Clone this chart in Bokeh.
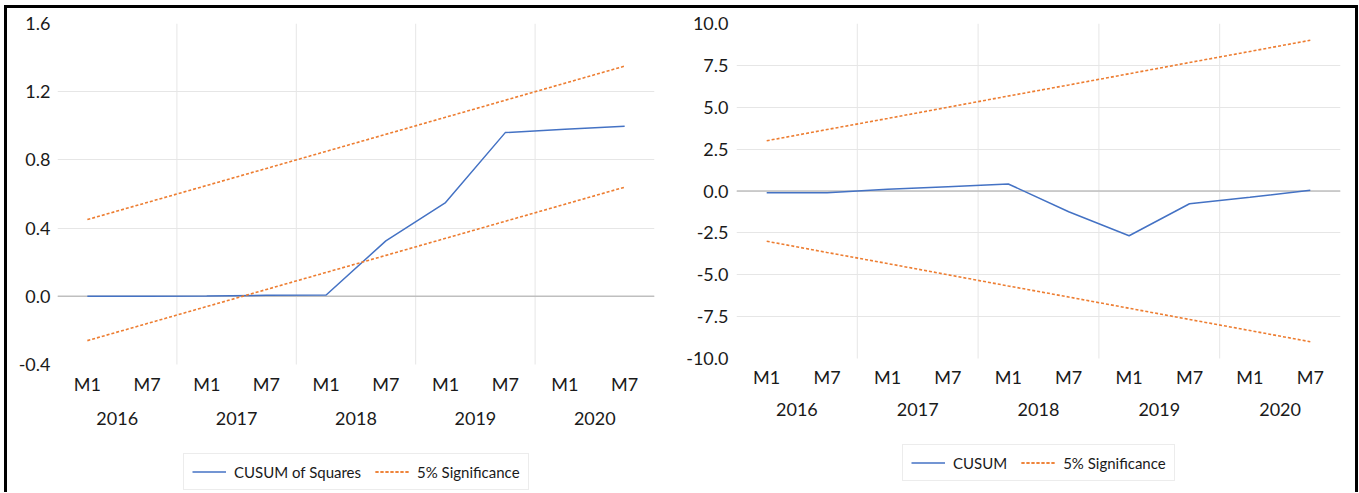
from bokeh.plotting import figure
from bokeh.models import (FactorRange, Range1d, FixedTicker, NumeralTickFormatter,
                          Span, Legend, LegendItem, ColumnDataSource)
from bokeh.layouts import row
from bokeh.embed import file_html
from bokeh.resources import INLINE

# ---------------- data ----------------
years = ["2016", "2017", "2018", "2019", "2020"]
months = ["M1", "M7"]

cusumsq = [0.0, 0.0, 0.002, 0.006, 0.008, 0.325, 0.55, 0.96, 0.98, 0.998]
cusumsq_upper = [0.45, 0.55, 0.65, 0.75, 0.85, 0.95, 1.05, 1.15, 1.25, 1.35]
cusumsq_lower = [-0.26, -0.16, -0.06, 0.04, 0.14, 0.24, 0.34, 0.44, 0.54, 0.64]
left_ticks = [-0.4, 0.0, 0.4, 0.8, 1.2, 1.6]

cusum = [-0.1, -0.1, 0.1, 0.26, 0.42, -1.24, -2.67, -0.76, -0.38, 0.05]
cusum_upper = [3.0, 3.67, 4.33, 5.0, 5.67, 6.33, 7.0, 7.67, 8.33, 9.0]
cusum_lower = [-3.0, -3.67, -4.33, -5.0, -5.67, -6.33, -7.0, -7.67, -8.33, -9.0]
right_ticks = [-10.0, -7.5, -5.0, -2.5, 0.0, 2.5, 5.0, 7.5, 10.0]

series_names_left = ["CUSUM of Squares", "5% Significance"]
series_names_right = ["CUSUM", "5% Significance"]

# ---------------- style ----------------
FONT = "Lato"
TICK_SIZE = "18px"
TXT = "#1a1a1a"
BLUE = "#4472C4"
ORANGE = "#ED7D31"
GRID = "#e6e6e6"
ZERO = "#bfbfbf"

factors = [(y, m) for y in years for m in months]
boundaries = [(y, months[-1], 0.5) for y in years[:-1]]


def make_chart(frame_w, mb, ticks, px_top, px_low, frame_h, main, upper, lower,
               names, leg_loc, x_std, axis_shift, y_std):
    # the frame reaches down to the bottom of the canvas so that the axis
    # (fixed near the lowest tick) and the legend below it stay inside it
    canvas_top = 8
    frame_top = canvas_top + mb[2]
    frame_bottom = frame_top + frame_h
    per_px = (ticks[-1] - ticks[0]) / (px_low - px_top)
    y_start = ticks[0] - (frame_bottom - px_low) * per_px

    p = figure(x_range=FactorRange(*factors, factor_padding=0, group_padding=0,
                                   subgroup_padding=0, range_padding=0),
               y_range=Range1d(y_start, ticks[-1]),
               frame_width=frame_w, frame_height=frame_h,
               min_border_left=mb[0], min_border_right=mb[1],
               min_border_top=mb[2], min_border_bottom=0,
               output_backend="svg", toolbar_location=None)
    p.outline_line_color = None
    p.background_fill_color = "white"
    p.border_fill_color = "white"

    # grids
    p.xgrid.visible = False
    p.ygrid.ticker = FixedTicker(ticks=ticks[1:-1])
    p.ygrid.grid_line_color = GRID
    p.ygrid.grid_line_width = 1
    bsrc = ColumnDataSource(dict(x=boundaries,
                                 y0=[ticks[0]] * len(boundaries),
                                 y1=[ticks[-1]] * len(boundaries)))
    p.segment(x0="x", x1="x", y0="y0", y1="y1", source=bsrc,
              line_color=GRID, line_width=1, level="underlay")
    p.add_layout(Span(location=0, dimension="width", line_color=ZERO,
                      line_width=1.5, level="underlay"))

    src = ColumnDataSource(dict(x=factors, main=main, upper=upper, lower=lower))
    r_main = p.line("x", "main", source=src, line_color=BLUE, line_width=1.5)
    r_up = p.line("x", "upper", source=src, line_color=ORANGE, line_width=1.6,
                  line_dash="3 2")
    r_lo = p.line("x", "lower", source=src, line_color=ORANGE, line_width=1.6,
                  line_dash="3 2")

    # y axis
    p.yaxis.ticker = FixedTicker(ticks=ticks)
    p.yaxis.formatter = NumeralTickFormatter(format="0.0")
    p.yaxis.axis_line_color = None
    p.yaxis.major_tick_line_color = None
    p.yaxis.minor_tick_line_color = None
    p.yaxis.major_tick_out = 0
    p.yaxis.major_label_standoff = y_std
    p.yaxis.major_label_text_font = FONT
    p.yaxis.major_label_text_font_size = TICK_SIZE
    p.yaxis.major_label_text_color = TXT

    # x axis (drawn just above the lowest y tick)
    xa = p.xaxis[0]
    xa.fixed_location = ticks[0] + axis_shift * per_px
    xa.axis_line_color = None
    xa.major_tick_line_color = None
    xa.minor_tick_line_color = None
    xa.major_tick_out = 0
    xa.major_tick_in = 0
    xa.major_label_standoff = x_std
    xa.major_label_text_font = FONT
    xa.major_label_text_font_size = TICK_SIZE
    xa.major_label_text_color = TXT
    xa.group_text_font = FONT
    xa.group_text_font_size = TICK_SIZE
    xa.group_text_font_style = "normal"
    xa.group_text_color = TXT
    xa.separator_line_color = None

    legend = Legend(items=[LegendItem(label=names[0], renderers=[r_main]),
                           LegendItem(label=names[1], renderers=[r_up, r_lo])],
                    location=leg_loc, orientation="horizontal",
                    border_line_color="#d9d9d9", border_line_width=1,
                    background_fill_color="white", background_fill_alpha=1,
                    label_text_font=FONT, label_text_font_size="15px",
                    label_text_color=TXT, padding=8, spacing=14,
                    glyph_width=34, glyph_height=19, label_height=19,
                    label_standoff=8, margin=0)
    p.add_layout(legend)
    return p


p1 = make_chart(597, (50, 26, 15), left_ticks, 23, 364, 469, cusumsq,
                cusumsq_upper, cusumsq_lower, series_names_left, (126, 2),
                14, 6, 7)
p2 = make_chart(604, (56, 15, 15), right_ticks, 23, 358, 469, cusum,
                cusum_upper, cusum_lower, series_names_right, (166, 11),
                12, 5, 8)

layout = row(p1, p2,
             styles={"margin-left": "4px", "margin-top": "5px",
                     "border-top": "3px solid black",
                     "border-left": "3px solid black",
                     "border-right": "3px solid black"})

open("out.html", "w").write(file_html(layout, INLINE))
